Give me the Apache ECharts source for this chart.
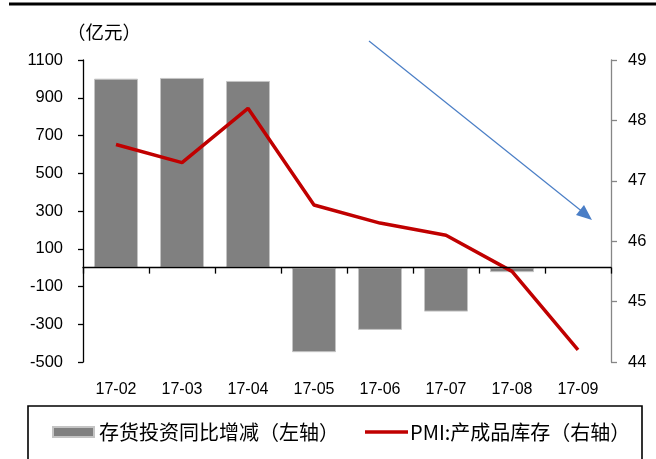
<!DOCTYPE html>
<html>
<head>
<meta charset="utf-8">
<script src="https://cdn.jsdelivr.net/npm/echarts@6/dist/echarts.min.js"></script>
<style>
  html, body { margin: 0; padding: 0; background: #fff; }
  #chart { width: 656px; height: 459px; }
</style>
</head>
<body>
<div id="chart"></div>
<script>
// Months shown on the category axis
const months = ['17-02', '17-03', '17-04', '17-05', '17-06', '17-07', '17-08', '17-09'];
// Inventory investment, year-on-year change (100 million yuan), left axis
const inventoryChange = [1001, 1005, 989, -448, -330, -233, -24, null];
// PMI finished-goods inventory index, right axis
const pmiFinished = [47.6, 47.3, 48.2, 46.6, 46.3, 46.1, 45.5, 44.2];
// Tick labels of the left axis
const leftTicks = [-500, -300, -100, 100, 300, 500, 700, 900, 1100];
// Tick labels of the right axis
const rightTicks = [44, 45, 46, 47, 48, 49];

const barName = '存货投资同比增减（左轴）';
const lineName = 'PMI:产成品库存（右轴）';

const latin = '"Liberation Sans", Arial, sans-serif';
const cjk = '"Noto Sans CJK SC", "Liberation Sans", sans-serif';

const chart = echarts.init(document.getElementById('chart'), null, { renderer: 'canvas' });

chart.setOption({
  animation: false,
  backgroundColor: '#ffffff',
  grid: { left: 83, right: 45, top: 60, bottom: 97, containLabel: false },
  xAxis: [
    {
      // axis line through zero with boundary ticks
      type: 'category',
      data: months,
      boundaryGap: true,
      axisLine: { onZero: true, lineStyle: { color: '#000', width: 1.3 } },
      axisTick: { show: true, length: 6, inside: false, lineStyle: { color: '#000', width: 1.3 } },
      axisLabel: { show: false },
      splitLine: { show: false },
      z: 6
    },
    {
      // month labels along the bottom of the plot
      type: 'category',
      data: months,
      position: 'bottom',
      boundaryGap: true,
      axisLine: { show: false, onZero: false },
      axisTick: { show: false },
      axisLabel: { show: true, margin: 20, color: '#000', fontSize: 16, fontFamily: latin },
      splitLine: { show: false }
    }
  ],
  yAxis: [
    {
      type: 'value',
      min: -500,
      max: 1100,
      position: 'left',
      axisLine: { show: true, lineStyle: { color: '#000', width: 1.3 } },
      axisTick: { show: true, length: 5, customValues: leftTicks, lineStyle: { color: '#000', width: 1.3 } },
      axisLabel: {
        margin: 20, color: '#000', fontSize: 16.5, fontFamily: latin,
        customValues: leftTicks, formatter: (v) => String(v)
      },
      splitLine: { show: false }
    },
    {
      type: 'value',
      min: 44,
      max: 49,
      interval: 1,
      position: 'right',
      axisLine: { show: true, lineStyle: { color: '#868686', width: 1.3 } },
      axisTick: { show: true, length: 6, customValues: rightTicks, lineStyle: { color: '#868686', width: 1.3 } },
      axisLabel: {
        margin: 17, color: '#000', fontSize: 16.5, fontFamily: latin,
        customValues: rightTicks, formatter: (v) => String(v)
      },
      splitLine: { show: false }
    }
  ],
  legend: [
    {
      left: 47,
      top: 417,
      data: [{ name: barName, icon: 'rect' }],
      itemWidth: 41,
      itemHeight: 10,
      itemGap: 0,
      textStyle: { color: '#000', fontSize: 20, fontFamily: cjk }
    },
    {
      left: 360,
      top: 417,
      data: [{ name: lineName, icon: 'rect', itemStyle: { color: '#c00000' } }],
      itemWidth: 43,
      itemHeight: 3.5,
      itemGap: 0,
      textStyle: { color: '#000', fontSize: 20, fontFamily: cjk, padding: [0, 0, 0, -3] }
    }
  ],
  series: [
    {
      name: barName,
      type: 'bar',
      xAxisIndex: 0,
      yAxisIndex: 0,
      data: inventoryChange,
      barWidth: 44,
      itemStyle: { color: '#808080', borderColor: '#c4c4c4', borderWidth: 1 },
      z: 2
    },
    {
      name: lineName,
      type: 'line',
      xAxisIndex: 0,
      yAxisIndex: 1,
      data: pmiFinished,
      symbol: 'none',
      showSymbol: false,
      lineStyle: { color: '#c00000', width: 3.5 },
      itemStyle: { color: '#c00000' },
      z: 5
    }
  ],
  graphic: [
    // rule across the top
    { type: 'line', shape: { x1: 9, y1: 4, x2: 656, y2: 4 }, style: { stroke: '#000', lineWidth: 3 }, silent: true },
    // unit caption of the left axis
    {
      type: 'text', left: 67, top: 23,
      style: { text: '（亿元）', fill: '#000', font: '18.5px "Noto Sans CJK SC", sans-serif' }
    },
    // frame around the legend
    {
      type: 'rect', shape: { x: 28, y: 406, width: 614, height: 70 },
      style: { fill: 'none', stroke: '#000', lineWidth: 1.6 }, silent: true, z: -1
    },
    // downward trend arrow
    {
      type: 'line', shape: { x1: 369, y1: 41, x2: 584, y2: 213 },
      style: { stroke: '#4a7ec6', lineWidth: 1.3 }, silent: true
    },
    {
      type: 'polygon',
      shape: { points: [[592, 220], [576, 215], [584, 205]] },
      style: { fill: '#4a7ec6' }, silent: true
    }
  ]
});
</script>
</body>
</html>
